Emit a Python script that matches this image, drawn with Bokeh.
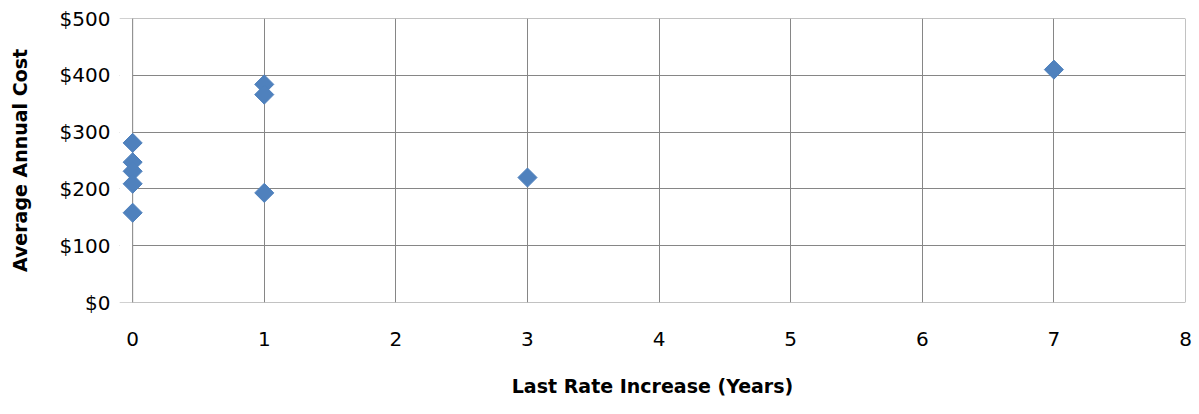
import math
from bokeh.plotting import figure
from bokeh.models import (Range1d, NumeralTickFormatter, FixedTicker, ColumnDataSource,
                          BoxAnnotation, Span)
from bokeh.embed import file_html
from bokeh.resources import INLINE

years = [0, 0, 0, 0, 0, 1, 1, 1, 3, 7]
costs = [281, 247, 231, 209, 158, 384, 366, 193, 220, 410]
x_ticks = [0, 1, 2, 3, 4, 5, 6, 7, 8]
y_ticks = [0, 100, 200, 300, 400, 500]

X_PAD = -0.1  # small room left of 0 so the diamonds at 0 are not cut off

src = ColumnDataSource(dict(x=years, y=costs))

GRID = "#868686"
FONT = "DejaVu Sans"

p = figure(width=1195, height=410, output_backend="svg", toolbar_location=None,
           x_range=Range1d(X_PAD, x_ticks[-1]), y_range=Range1d(y_ticks[0], y_ticks[-1]),
           min_border_left=119, min_border_right=10, min_border_top=18, min_border_bottom=108)
p.outline_line_color = None
p.background_fill_color = "white"
p.border_fill_color = "white"

for ax in (p.xaxis[0], p.yaxis[0]):
    ax.axis_line_color = None
    ax.major_tick_line_color = None
    ax.minor_tick_line_color = None
    ax.major_tick_out = 0
    ax.major_tick_in = 0
    ax.minor_tick_out = 0
    ax.minor_tick_in = 0
    ax.major_label_text_font = FONT
    ax.major_label_text_font_size = "20px"
    ax.major_label_text_color = "#000000"
    ax.axis_label_text_font = FONT
    ax.axis_label_text_font_size = "19px"
    ax.axis_label_text_font_style = "bold"
    ax.axis_label_text_color = "#000000"

p.xaxis.ticker = FixedTicker(ticks=x_ticks)
p.yaxis.ticker = FixedTicker(ticks=y_ticks)
p.yaxis.formatter = NumeralTickFormatter(format="$0")
p.xaxis.axis_label = "Last Rate Increase (Years)"
p.yaxis.axis_label = "Average Annual Cost"
p.xaxis.major_label_standoff = 29
p.xaxis.axis_label_standoff = 26
p.yaxis.major_label_standoff = 9
p.yaxis.axis_label_standoff = 26

p.xgrid.grid_line_color = GRID
p.ygrid.grid_line_color = GRID
p.xgrid.grid_line_alpha = 1
p.ygrid.grid_line_alpha = 1

# border lines at the range ends (grid skips exact range ends)
for yv in (y_ticks[0], y_ticks[-1]):
    p.add_layout(Span(location=yv, dimension="width", line_color=GRID, line_width=1,
                      level="underlay"))
# hide grid lines in the small strip left of x=0, then redraw the left/right borders
p.add_layout(BoxAnnotation(left=X_PAD, right=0, fill_color="white", fill_alpha=1,
                           line_color=None, level="underlay"))
for xv in (x_ticks[0], x_ticks[-1]):
    p.add_layout(Span(location=xv, dimension="height", line_color=GRID, line_width=1,
                      level="underlay"))

p.scatter("x", "y", source=src, marker="square", size=13.5, angle=math.pi / 4,
          fill_color="#4F81BD", line_color="#4F81BD", line_width=1)

open("out.html", "w").write(file_html(p, INLINE))
